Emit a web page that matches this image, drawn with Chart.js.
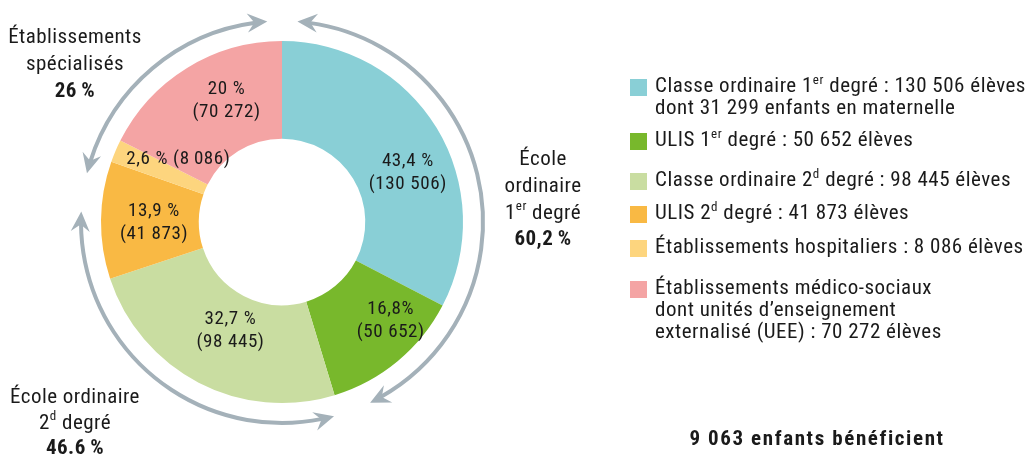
<!DOCTYPE html>
<html><head><meta charset="utf-8">
<script src="https://cdn.jsdelivr.net/npm/chart.js@4.4.1/dist/chart.umd.min.js"></script>
<style>html,body{margin:0;padding:0;background:#fff;overflow:hidden}#wrap{position:relative;width:1033px;height:458px}</style>
</head><body><div id="wrap"><canvas id="c" width="1033" height="458"></canvas></div>
<script>
// ---- data ----
const categories = ['Classe ordinaire 1er degré', 'ULIS 1er degré', 'Classe ordinaire 2d degré', 'ULIS 2d degré', 'Établissements hospitaliers', 'Établissements médico-sociaux'];
const pupils = [130506, 50652, 98445, 41873, 8086, 70272];
const sliceLabels = [['43,4 %', '(130 506)'], ['16,8%', '(50 652)'], ['32,7 %', '(98 445)'], ['13,9 %', '(41 873)'], ['2,6 % (8\u2009086)'], ['20 %', '(70 272)']];
const legendLabels = [
  ['Classe ordinaire 1^{er} degré : 130 506 élèves', 'dont 31 299 enfants en maternelle'],
  ['ULIS 1^{er} degré : 50 652 élèves'],
  ['Classe ordinaire 2^{d} degré : 98 445 élèves'],
  ['ULIS 2^{d} degré : 41 873 élèves'],
  ['Établissements hospitaliers : 8 086 élèves'],
  ['Établissements médico-sociaux', 'dont unités d’enseignement', 'externalisé (UEE) : 70 272 élèves']
];
const groupLabels = [
  ['École', 'ordinaire', '1^{er} degré', '**60,2\u2009%'],
  ['École ordinaire', '2^{d} degré', '**46.6\u2009%'],
  ['Établissements', 'spécialisés', '**26\u2009%']
];
const footnote = '9 063 enfants bénéficient';

// ---- style ----
const colors = ['#89cfd6', '#78b82c', '#c9dda1', '#f9b944', '#fdd57e', '#f4a4a4'];
const FONT = '"Roboto Condensed", "Liberation Sans Narrow", "DejaVu Sans Condensed", Roboto, sans-serif';
const ARROW = '#a4b1b9';
const labelPlacement = [{d: 10, r: 135}, {d: -8, r: 147}, {d: -2, r: 120}, {d: -1, r: 128}, {d: 8, r: 121}, {d: 7, r: 133}];
const arrowArcs = [[4.4, 154], [165, 273], [284, 355.8]];
const groupLabelPos = [{x: 543, y: 160, lh: 26.7}, {x: 75, y: 398, lh: 25.5}, {x: 75, y: 38, lh: 27}];
const legendRows = [87, 141, 181, 214, 248, 289];

function parseRich(s) {
  let bold = false;
  if (s.startsWith('**')) { bold = true; s = s.slice(2); }
  const segs = [];
  const re = /\^\{([^}]*)\}/g; let last = 0, m;
  while ((m = re.exec(s))) {
    if (m.index > last) segs.push({t: s.slice(last, m.index), sup: false});
    segs.push({t: m[1], sup: true});
    last = re.lastIndex;
  }
  if (last < s.length) segs.push({t: s.slice(last), sup: false});
  return {bold, segs};
}
function drawRich(ctx, s, x, y, size, align, spacing, forceBold) {
  const r = parseRich(s);
  const w = (r.bold || forceBold) ? 'bold ' : '';
  const fontN = w + size + 'px ' + FONT;
  const fontS = w + Math.round(size * 0.62) + 'px ' + FONT;
  ctx.letterSpacing = (spacing || 0) + 'px';
  let total = 0;
  r.segs.forEach(g => { ctx.font = g.sup ? fontS : fontN; g.w = ctx.measureText(g.t).width; total += g.w; });
  let cx = align === 'center' ? x - total / 2 : x;
  ctx.textAlign = 'left'; ctx.textBaseline = 'middle';
  r.segs.forEach(g => {
    ctx.font = g.sup ? fontS : fontN;
    ctx.fillText(g.t, cx, g.sup ? y - size * 0.32 : y);
    cx += g.w;
  });
  ctx.letterSpacing = '0px';
}

const overlay = {
  id: 'overlay',
  afterDatasetsDraw(chart) {
    const ctx = chart.ctx;
    const meta = chart.getDatasetMeta(0);
    const arc0 = meta.data[0];
    const cx = arc0.x, cy = arc0.y;
    ctx.save();
    ctx.fillStyle = '#1a1a1a';
    // slice labels
    meta.data.forEach((a, i) => {
      const mid = (a.startAngle + a.endAngle) / 2 + labelPlacement[i].d * Math.PI / 180;
      const x = cx + Math.cos(mid) * labelPlacement[i].r;
      const y = cy + Math.sin(mid) * labelPlacement[i].r;
      const lines = sliceLabels[i];
      const lh = 23;
      lines.forEach((l, k) => drawRich(ctx, l, x, y + (k - (lines.length - 1) / 2) * lh, 19, 'center', 0.6));
    });
    // arrows
    const R = 201;
    ctx.strokeStyle = ARROW; ctx.fillStyle = ARROW; ctx.lineWidth = 4; ctx.lineCap = 'butt';
    const toRad = d => (d - 90) * Math.PI / 180;
    function head(deg, dir) {
      const t = toRad(deg);
      const px = cx + Math.cos(t) * R, py = cy + Math.sin(t) * R;
      let tx = -Math.sin(t), ty = Math.cos(t);
      if (dir < 0) { tx = -tx; ty = -ty; }
      const nx = -ty, ny = tx;
      const L = 20, W = 9.5, N = 13;
      ctx.beginPath();
      ctx.moveTo(px, py);
      ctx.lineTo(px - tx * L + nx * W, py - ty * L + ny * W);
      ctx.lineTo(px - tx * N, py - ty * N);
      ctx.lineTo(px - tx * L - nx * W, py - ty * L - ny * W);
      ctx.closePath();
      ctx.fill();
    }
    arrowArcs.forEach(([a, b]) => {
      const off = 12 / R * 180 / Math.PI;
      ctx.beginPath();
      ctx.arc(cx, cy, R, toRad(a + off), toRad(b - off));
      ctx.stroke();
      head(a, -1); head(b, 1);
    });
    // group labels
    ctx.fillStyle = '#1a1a1a';
    groupLabels.forEach((lines, i) => {
      const p = groupLabelPos[i];
      lines.forEach((l, k) => drawRich(ctx, l, p.x, p.y + k * p.lh, 21, 'center', 0.45));
    });
    // legend
    legendLabels.forEach((lines, i) => {
      const y = legendRows[i];
      ctx.fillStyle = colors[i];
      ctx.fillRect(630, y - 8, 17, 17);
      ctx.fillStyle = '#1a1a1a';
      lines.forEach((l, k) => drawRich(ctx, l, 655, y + k * 22, 21, 'left', 0.5));
    });
    drawRich(ctx, footnote, 817, 440, 21, 'center', 1.6, true);
    ctx.restore();
  }
};

new Chart(document.getElementById('c'), {
  type: 'doughnut',
  data: {
    labels: categories,
    datasets: [{ data: pupils, backgroundColor: colors, borderWidth: 0, hoverOffset: 0 }]
  },
  options: {
    responsive: false,
    animation: false,
    cutout: '46%',
    layout: { padding: { left: 101, top: 41, right: 570, bottom: 55 } },
    plugins: { legend: { display: false }, tooltip: { enabled: false } },
    events: []
  },
  plugins: [overlay]
});
</script></body></html>
